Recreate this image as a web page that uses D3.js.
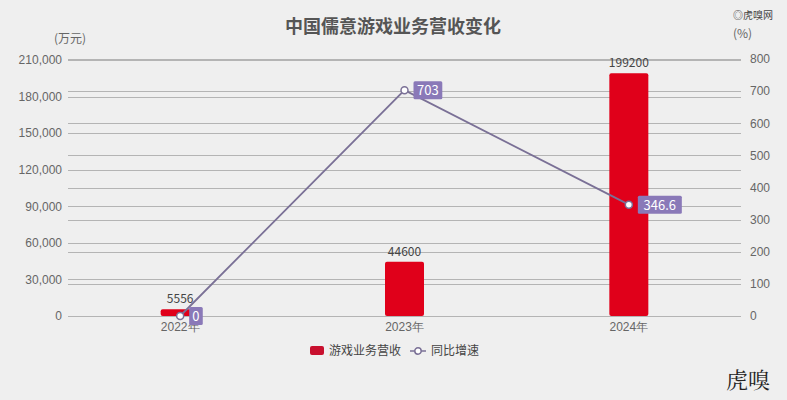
<!DOCTYPE html>
<html>
<head>
<meta charset="utf-8">
<script src="https://cdn.jsdelivr.net/npm/d3@7"></script>
<style>
  body { margin: 0; background: #efefef; }
  svg { display: block; font-family: "Noto Sans CJK SC", "Noto Sans", sans-serif; }
  .grid line { stroke: #b4b4b4; stroke-width: 1; }
  .tick text { fill: #666; font-size: 12px; }
</style>
</head>
<body>
<div id="chart"></div>
<script>
// --- données ---
const years = ["2022年", "2023年", "2024年"];
const revenue = [5556, 44600, 199200];      // 万元
const growth = [0, 703, 346.6];             // %
const leftTicks = [0, 30000, 60000, 90000, 120000, 150000, 180000, 210000];
const rightTicks = [0, 100, 200, 300, 400, 500, 600, 700, 800];

const width = 787, height = 400;
const margin = { left: 68, right: 46, top: 60, bottom: 84 };
const x0 = margin.left, x1 = width - margin.right;
const yTop = 60, yBottom = 316;

const svg = d3.select("#chart").append("svg")
    .attr("width", width)
    .attr("height", height);

const x = d3.scaleBand().domain(years).range([x0, x1]);
const yL = d3.scaleLinear().domain([0, 210000]).range([yBottom, yTop]);
const yR = d3.scaleLinear().domain([0, 800]).range([yBottom, yTop - 1]);

// titre
svg.append("text")
    .attr("x", 393).attr("y", 33)
    .attr("text-anchor", "middle")
    .attr("font-size", 18).attr("font-weight", "bold")
    .attr("fill", "#555")
    .text("中国儒意游戏业务营收变化");

// petit logo haut droite
svg.append("text")
    .attr("x", 773).attr("y", 19)
    .attr("text-anchor", "end")
    .attr("font-size", 10).attr("fill", "#444")
    .text("◎虎嗅网");

// unités
svg.append("text").attr("x", 54).attr("y", 43)
    .attr("font-size", 12).attr("fill", "#666").text("(万元)");
svg.append("text").attr("x", 733).attr("y", 38)
    .attr("font-size", 12).attr("fill", "#666").text("(%)");

// grilles (les deux axes ont leurs lignes)
svg.append("g").attr("class", "grid")
    .selectAll("line").data(leftTicks).join("line")
    .attr("x1", x0).attr("x2", x1)
    .attr("y1", d => Math.round(yL(d)) + 0.5).attr("y2", d => Math.round(yL(d)) + 0.5);
svg.append("g").attr("class", "grid")
    .selectAll("line").data(rightTicks.slice(1)).join("line")
    .attr("x1", x0).attr("x2", x1)
    .attr("y1", d => Math.round(yR(d)) + 0.5).attr("y2", d => Math.round(yR(d)) + 0.5);

// axe gauche
const axL = svg.append("g")
    .attr("transform", `translate(${x0 - 6},0)`)
    .call(d3.axisLeft(yL).tickValues(leftTicks).tickSize(0).tickPadding(0)
        .tickFormat(d3.format(",")));
axL.select(".domain").remove();

// axe droit
const axR = svg.append("g")
    .attr("transform", `translate(${x1 + 9},0)`)
    .call(d3.axisRight(yR).tickValues(rightTicks).tickSize(0).tickPadding(0));
axR.select(".domain").remove();

// axe x
const axX = svg.append("g")
    .attr("transform", `translate(0,${yBottom})`)
    .call(d3.axisBottom(x).tickSize(0).tickPadding(6));
axX.select(".domain").remove();

// barres
const barW = 39;
svg.append("g").selectAll("rect").data(revenue).join("rect")
    .attr("x", (d, i) => x(years[i]) + x.bandwidth() / 2 - barW / 2)
    .attr("y", d => yL(d))
    .attr("width", barW)
    .attr("height", d => yBottom - yL(d))
    .attr("rx", 2)
    .attr("fill", "#e0001a");

svg.append("g").selectAll("text").data(revenue).join("text")
    .attr("x", (d, i) => x(years[i]) + x.bandwidth() / 2)
    .attr("y", d => yL(d) - 6)
    .attr("text-anchor", "middle")
    .attr("font-size", 12).attr("fill", "#444")
    .text(d => d);

// ligne
const cx = i => x(years[i]) + x.bandwidth() / 2;
const line = d3.line().x((d, i) => cx(i)).y(d => yR(d));
svg.append("path")
    .datum(growth)
    .attr("d", line)
    .attr("fill", "none")
    .attr("stroke", "#7a7096")
    .attr("stroke-width", 1.8);

svg.append("g").selectAll("circle").data(growth).join("circle")
    .attr("cx", (d, i) => cx(i))
    .attr("cy", d => yR(d))
    .attr("r", 3.5)
    .attr("fill", "#fff")
    .attr("stroke", "#7a7096")
    .attr("stroke-width", 1.5);

// étiquettes violettes
const lab = svg.append("g").selectAll("g").data(growth).join("g")
    .attr("transform", (d, i) => `translate(${cx(i) + 9},${yR(d)})`);
lab.append("rect")
    .attr("x", 0).attr("y", -9)
    .attr("width", d => String(d).length * 7.6 + 6)
    .attr("height", 18)
    .attr("rx", 1.5)
    .attr("fill", "#8a79b8");
lab.append("text")
    .attr("x", d => (String(d).length * 7.6 + 6) / 2)
    .attr("y", 5)
    .attr("text-anchor", "middle")
    .attr("font-size", 13).attr("fill", "#fff")
    .text(d => d);

// légende
const leg = svg.append("g").attr("transform", "translate(310,351)");
leg.append("rect").attr("x", 0).attr("y", -5).attr("width", 14).attr("height", 9)
    .attr("rx", 2).attr("fill", "#c8102e");
leg.append("text").attr("x", 19).attr("y", 4).attr("font-size", 12).attr("fill", "#444")
    .text("游戏业务营收");
leg.append("line").attr("x1", 100).attr("x2", 116).attr("y1", 0).attr("y2", 0)
    .attr("stroke", "#7a7096").attr("stroke-width", 1.5);
leg.append("circle").attr("cx", 108).attr("cy", 0).attr("r", 3.2)
    .attr("fill", "#fff").attr("stroke", "#7a7096").attr("stroke-width", 1.5);
leg.append("text").attr("x", 121).attr("y", 4).attr("font-size", 12).attr("fill", "#444")
    .text("同比增速");

// filigrane
svg.append("text")
    .attr("x", 770).attr("y", 388)
    .attr("text-anchor", "end")
    .attr("font-family", "'Noto Serif CJK SC', 'DejaVu Serif', serif")
    .attr("font-size", 22).attr("fill", "#222")
    .text("虎嗅");
</script>
</body>
</html>
